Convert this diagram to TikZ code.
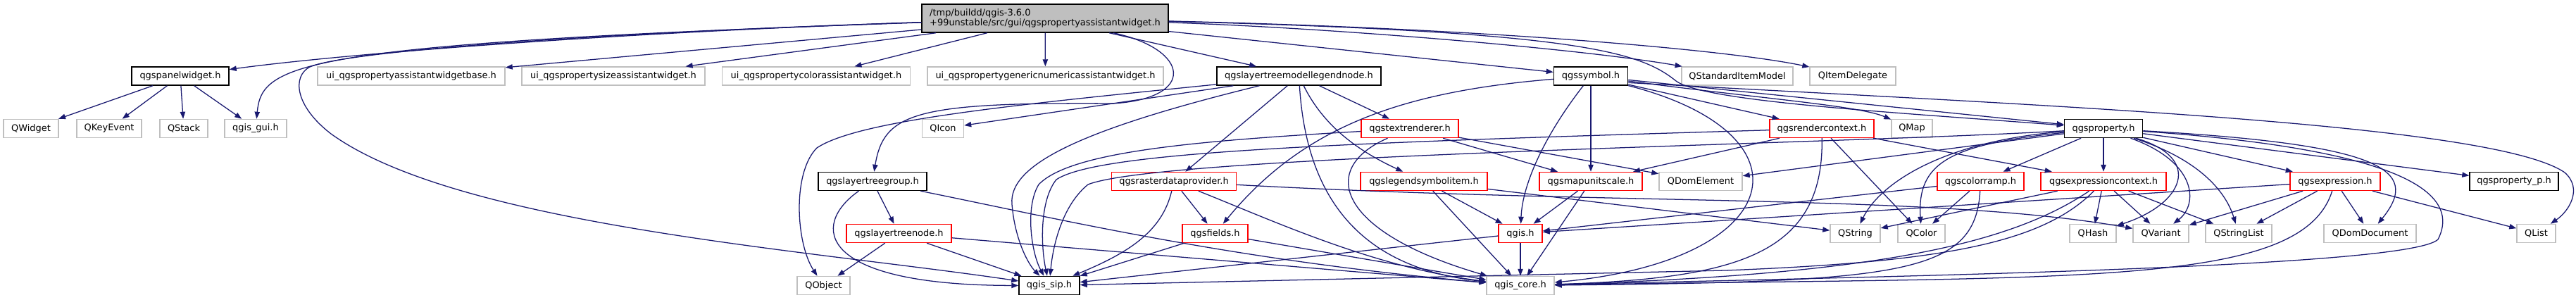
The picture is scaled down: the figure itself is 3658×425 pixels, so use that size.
\documentclass[tikz,border=0pt]{standalone}
\usepackage{fontspec}
\setmainfont{DejaVu Sans}
\usepackage{tikz}
\usetikzlibrary{arrows.meta}
\definecolor{edgeblue}{HTML}{191970}
\definecolor{boxgray}{HTML}{BFBFBF}

\begin{document}
\begin{tikzpicture}[
    x=0.75pt, y=-0.75pt,
    font=\fontsize{9.7}{11}\selectfont,
    file/.style={draw=boxgray, fill=white, line width=1.1pt, minimum height=19.5pt, inner sep=1pt},
    doc/.style={file, draw=black},
    trunc/.style={file, draw=red},
    wd/.style={minimum width=#1*0.75pt},
    arr/.style={-{Triangle[length=7.5pt,width=5.5pt]}, draw=edgeblue, line width=0.95pt},
  ]
    \fill[white] (0,0) rectangle (3658,425);
    \useasboundingbox (0,0) rectangle (3658,425);

    \node[doc, fill=boxgray, align=left, wd=350, minimum height=30pt] (main) at (1484,26) {/tmp/buildd/qgis-3.6.0\\+99unstable/src/gui/qgspropertyassistantwidget.h};

    \node[doc, wd=138]   (panel)    at (256,108)    {qgspanelwidget.h};
    \node[file, wd=266]  (uibase)   at (584,108)    {ui\_qgspropertyassistantwidgetbase.h};
    \node[file, wd=260]  (uisize)   at (871,108)    {ui\_qgspropertysizeassistantwidget.h};
    \node[file, wd=267]  (uicolor)  at (1159,108)   {ui\_qgspropertycolorassistantwidget.h};
    \node[file, wd=335]  (uigen)    at (1484.5,108) {ui\_qgspropertygenericnumericassistantwidget.h};
    \node[doc, wd=233]   (legend)   at (1844.5,108) {qgslayertreemodellegendnode.h};
    \node[doc, wd=105]   (symbol)   at (2259,108)   {qgssymbol.h};
    \node[file, wd=158]  (stdmodel) at (2467,108)   {QStandardItemModel};
    \node[file, wd=122]  (delegate) at (2631,108)   {QItemDelegate};

    \node[file, wd=78]   (qwidget)   at (44,182.5)   {QWidget};
    \node[file, wd=92]   (qkeyevent) at (155,182.5)  {QKeyEvent};
    \node[file, wd=68]   (qstack)    at (261,182.5)  {QStack};
    \node[file, wd=88]   (gui)       at (363,182.5)  {qgis\_gui.h};
    \node[file, wd=59]   (qicon)     at (1339,182.5) {QIcon};
    \node[trunc, wd=138] (textrend)  at (2002,182.5) {qgstextrenderer.h};
    \node[trunc, wd=148] (rendctx)   at (2587,182.5) {qgsrendercontext.h};
    \node[file, wd=58]   (qmap)      at (2715,182.5) {QMap};
    \node[doc, wd=111]   (prop)      at (2987,182.5) {qgsproperty.h};

    \node[doc, wd=154]   (ltgroup)   at (1239,257.5)   {qgslayertreegroup.h};
    \node[trunc, wd=177] (rasterdp)  at (1667,257.5)   {qgsrasterdataprovider.h};
    \node[trunc, wd=180] (legsym)    at (2022,257.5)   {qgslegendsymbolitem.h};
    \node[trunc, wd=146] (mapunit)   at (2259,257.5)   {qgsmapunitscale.h};
    \node[file, wd=118]  (domelem)   at (2415,257.5)   {QDomElement};
    \node[trunc, wd=123] (colorramp) at (2812.5,257.5) {qgscolorramp.h};
    \node[trunc, wd=178] (expctx)    at (2987,257.5)   {qgsexpressioncontext.h};
    \node[trunc, wd=128] (expr)      at (3316,257.5)   {qgsexpression.h};
    \node[doc, wd=126]   (propp)     at (3570,257.5)   {qgsproperty\_p.h};

    \node[trunc, wd=149] (ltnode)   at (1276.5,331.5) {qgslayertreenode.h};
    \node[trunc, wd=93]  (fields)   at (1725.5,331.5) {qgsfields.h};
    \node[trunc, wd=62]  (qgis)     at (2159,331.5)   {qgis.h};
    \node[file, wd=71]   (qstring)  at (2634.5,331.5) {QString};
    \node[file, wd=67]   (qcolor)   at (2728.5,331.5) {QColor};
    \node[file, wd=66]   (qhash)    at (2972,331.5)   {QHash};
    \node[file, wd=79]   (qvariant) at (3068.5,331.5) {QVariant};
    \node[file, wd=94]   (qstrlist) at (3179,331.5)   {QStringList};
    \node[file, wd=131]  (domdoc)   at (3365.5,331.5) {QDomDocument};
    \node[file, wd=55]   (qlist)    at (3601.5,331.5) {QList};

    \node[file, wd=75]   (qobject) at (1169.5,405.5) {QObject};
    \node[doc, wd=86]    (sip)     at (1490,405.5)   {qgis\_sip.h};
    \node[file, wd=96]   (core)    at (2159,405.5)   {qgis\_core.h};

    \draw[arr] (main) .. controls (900,45) and (500,75) .. (panel);
    \draw[arr] (main) .. controls (420,62) and (372,90) .. (gui);
    \draw[arr] (main) .. controls (900,45) and (500,70) .. (440,95) .. controls (415,108) and (418,150) .. (470,190) .. controls (650,320) and (1150,355) .. (sip);
    \draw[arr] (main) -- (uibase);
    \draw[arr] (main) -- (uisize);
    \draw[arr] (main) -- (uicolor);
    \draw[arr] (main) -- (uigen);
    \draw[arr] (main) -- (legend);
    \draw[arr] (main) .. controls (1690,70) and (1700,140) .. (1580,147) .. controls (1300,145) and (1255,160) .. (ltgroup);
    \draw[arr] (main) -- (symbol);
    \draw[arr] (main) .. controls (1900,40) and (2250,70) .. (stdmodel);
    \draw[arr] (main) .. controls (2100,40) and (2450,70) .. (delegate);
    \draw[arr] (main) .. controls (2250,45) and (2330,75) .. (2380,115) .. controls (2420,145) and (2700,160) .. (prop);

    \draw[arr] (panel) -- (qwidget);
    \draw[arr] (panel) -- (qkeyevent);
    \draw[arr] (panel) -- (qstack);
    \draw[arr] (panel) -- (gui);

    \draw[arr] (legend) -- (qicon);
    \draw[arr] (legend) .. controls (1450,148) and (1220,170) .. (1160,210) .. controls (1125,245) and (1130,345) .. (qobject);
    \draw[arr] (legend) .. controls (1530,185) and (1432,235) .. (1437,290) .. controls (1441,340) and (1460,375) .. (sip);
    \draw[arr] (legend) -- (rasterdp);
    \draw[arr] (legend) .. controls (1855,280) and (1930,380) .. (core);
    \draw[arr] (legend) .. controls (1880,180) and (1930,215) .. (legsym);
    \draw[arr] (legend) -- (textrend);

    \draw[arr] (symbol) .. controls (1990,130) and (1850,180) .. (fields);
    \draw[arr] (symbol) .. controls (2195,190) and (2162,260) .. (qgis);
    \draw[arr] (symbol) -- (mapunit);
    \draw[arr] (symbol) .. controls (2580,190) and (2540,370) .. (core);
    \draw[arr] (symbol) -- (rendctx);
    \draw[arr] (symbol) .. controls (2500,140) and (2640,150) .. (qmap);
    \draw[arr] (symbol) -- (prop);
    \draw[arr] (symbol.-10) .. controls (2900,150) and (3540,175) .. (3642,245) .. controls (3668,268) and (3648,300) .. (qlist);

    \draw[arr] (rendctx) .. controls (1900,203) and (1560,215) .. (1500,255) .. controls (1476,285) and (1478,350) .. (sip);
    \draw[arr] (rendctx) -- (mapunit);
    \draw[arr] (rendctx) .. controls (2590,360) and (2470,395) .. (core);
    \draw[arr] (rendctx) -- (qcolor);
    \draw[arr] (rendctx) -- (expctx);

    \draw[arr] (textrend) .. controls (1700,200) and (1520,215) .. (1475,262) .. controls (1455,295) and (1465,360) .. (sip);
    \draw[arr] (textrend) .. controls (1870,240) and (1900,330) .. (core);
    \draw[arr] (textrend) -- (mapunit);
    \draw[arr] (textrend) -- (domelem);

    \draw[arr] (prop) .. controls (2600,205) and (1650,220) .. (1545,262) .. controls (1508,292) and (1495,350) .. (sip);
    \draw[arr] (prop) -- (domelem);
    \draw[arr] (prop) .. controls (2760,200) and (2670,260) .. (qstring);
    \draw[arr] (prop) .. controls (2770,205) and (2722,230) .. (qcolor);
    \draw[arr] (prop) -- (colorramp);
    \draw[arr] (prop) -- (expctx);
    \draw[arr] (prop) .. controls (3130,225) and (3100,290) .. (qhash);
    \draw[arr] (prop) .. controls (3120,230) and (3122,290) .. (qvariant);
    \draw[arr] (prop) .. controls (3120,225) and (3160,270) .. (qstrlist);
    \draw[arr] (prop) -- (expr);
    \draw[arr] (prop) .. controls (3380,205) and (3440,240) .. (domdoc);
    \draw[arr] (prop) -- (propp);
    \draw[arr] (prop) .. controls (3380,210) and (3500,265) .. (3462,340) .. controls (3420,380) and (2700,392) .. (core);

    \draw[arr] (expr) -- (qgis);
    \draw[arr] (expr) -- (qvariant);
    \draw[arr] (expr) -- (qstrlist);
    \draw[arr] (expr) .. controls (3268,410) and (2950,392) .. (core);
    \draw[arr] (expr) -- (domdoc);
    \draw[arr] (expr) -- (qlist);

    \draw[arr] (expctx) -- (qstring);
    \draw[arr] (expctx) .. controls (2850,350) and (2650,390) .. (core);
    \draw[arr] (expctx) .. controls (2900,345) and (2760,372) .. (2450,384) -- (sip);
    \draw[arr] (expctx) -- (qhash);
    \draw[arr] (expctx) -- (qvariant);
    \draw[arr] (expctx) -- (qstrlist);

    \draw[arr] (colorramp) -- (qgis);
    \draw[arr] (colorramp) -- (qcolor);
    \draw[arr] (colorramp) .. controls (2805,390) and (2700,400) .. (core);

    \draw[arr] (rasterdp) -- (fields);
    \draw[arr] (rasterdp) .. controls (1650,330) and (1600,360) .. (sip);
    \draw[arr] (rasterdp) .. controls (1800,310) and (1950,380) .. (core);
    \draw[arr] (rasterdp) .. controls (2300,292) and (2750,275) .. (qvariant);

    \draw[arr] (fields) -- (sip);
    \draw[arr] (fields) -- (core);

    \draw[arr] (legsym) -- (qgis);
    \draw[arr] (legsym) -- (core);
    \draw[arr] (legsym) -- (qstring);

    \draw[arr] (ltgroup) -- (ltnode);
    \draw[arr] (ltgroup) .. controls (1150,320) and (1160,405) .. (sip);
    \draw[arr] (ltgroup) .. controls (1500,310) and (1750,370) .. (core);

    \draw[arr] (ltnode) -- (qobject);
    \draw[arr] (ltnode) -- (sip);
    \draw[arr] (ltnode) -- (core);

    \draw[arr] (mapunit) -- (qgis);
    \draw[arr] (mapunit) -- (core);

    \draw[arr] (qgis) -- (core);
    \draw[arr] (qgis) -- (sip);
  \end{tikzpicture}
\end{document}
